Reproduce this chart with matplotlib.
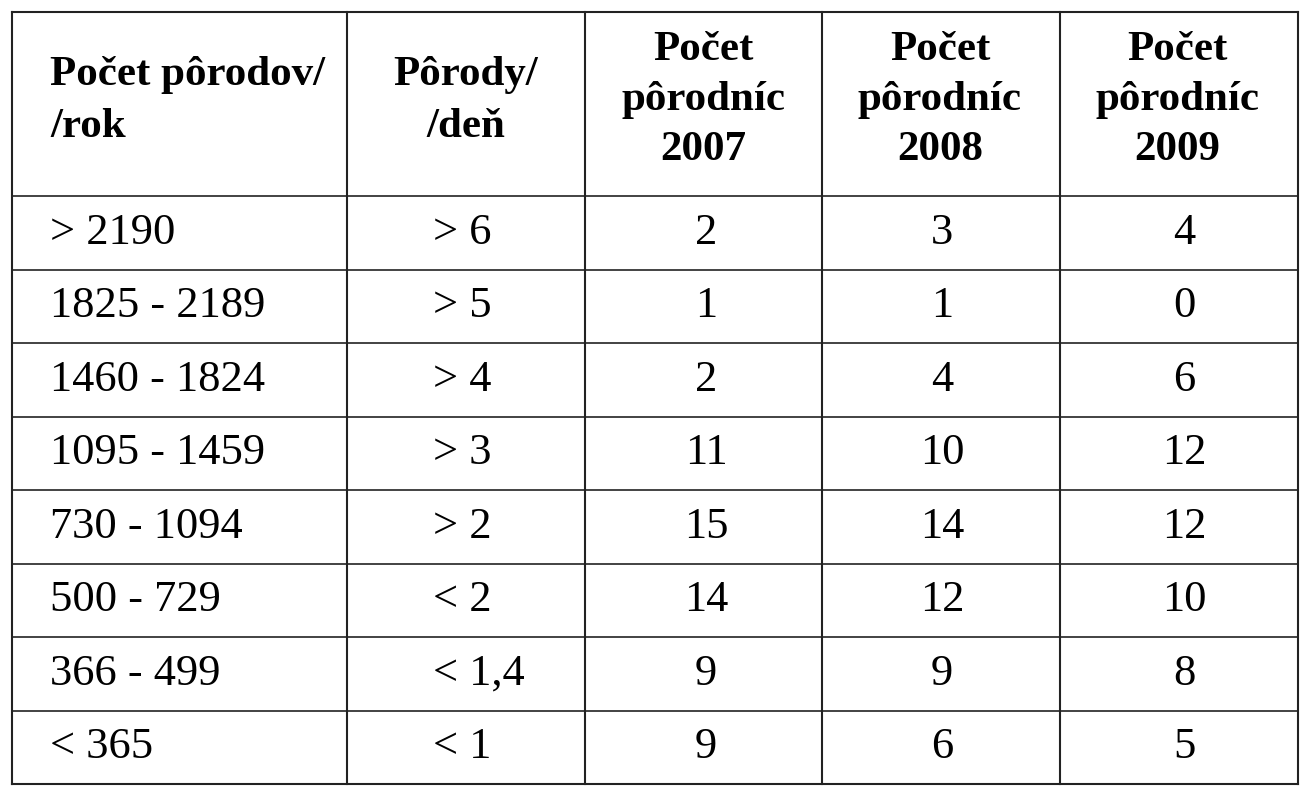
import matplotlib.pyplot as plt

col_headers = [["Počet pôrodov/", "/rok"], ["Pôrody/", "/deň"],
               ["Počet", "pôrodníc", "2007"], ["Počet", "pôrodníc", "2008"], ["Počet", "pôrodníc", "2009"]]
births_year = ["> 2190", "1825 - 2189", "1460 - 1824", "1095 - 1459", "730 - 1094", "500 - 729", "366 - 499", "< 365"]
births_day = ["> 6", "> 5", "> 4", "> 3", "> 2", "< 2", "< 1,4", "< 1"]
n2007 = [2, 1, 2, 11, 15, 14, 9, 9]
n2008 = [3, 1, 4, 10, 14, 12, 9, 6]
n2009 = [4, 0, 6, 12, 12, 10, 8, 5]

W, H = 1308, 800
fig = plt.figure(figsize=(W/100, H/100), dpi=100)
ax = fig.add_axes([0, 0, 1, 1])
ax.set_xlim(0, W); ax.set_ylim(H, 0); ax.axis('off')
font = 'Liberation Serif'
lc = '#222222'

xs = [12, 347, 585, 822, 1060, 1298]
top, hdr, bot = 12, 196, 784
rowh = (bot - hdr) / len(births_year)
for x in xs:
    ax.plot([x, x], [top, bot], color=lc, lw=1.5)
ax.plot([xs[0], xs[-1]], [top, top], color=lc, lw=1.5)
ax.plot([xs[0], xs[-1]], [bot, bot], color=lc, lw=1.5)
for i in range(len(births_year)):
    y = hdr + i * rowh
    ax.plot([xs[0], xs[-1]], [y, y], color=lc, lw=1.2)

hs = 31
ax.text(50, 75, col_headers[0][0], fontsize=hs, fontweight='bold', family=font, ha='left', va='center')
ax.text(50, 127, col_headers[0][1], fontsize=hs, fontweight='bold', family=font, ha='left', va='center')
ax.text(466, 75, col_headers[1][0], fontsize=hs, fontweight='bold', family=font, ha='center', va='center')
ax.text(466, 127, col_headers[1][1], fontsize=hs, fontweight='bold', family=font, ha='center', va='center')
for j, cx in enumerate([703, 940, 1177]):
    for k, t in enumerate(col_headers[2 + j]):
        ax.text(cx, 50 + 50 * k, t, fontsize=hs, fontweight='bold', family=font, ha='center', va='center')

ds = 32
for i in range(len(births_year)):
    yc = hdr + (i + 0.5) * rowh
    ax.text(50, yc, births_year[i], fontsize=ds, family=font, ha='left', va='center')
    ax.text(433, yc, births_day[i], fontsize=ds, family=font, ha='left', va='center')
    for cx, vals in zip([706, 942, 1184], [n2007, n2008, n2009]):
        ax.text(cx, yc, str(vals[i]), fontsize=ds, family=font, ha='center', va='center')

fig.savefig('out.png', dpi=100, facecolor='white')
